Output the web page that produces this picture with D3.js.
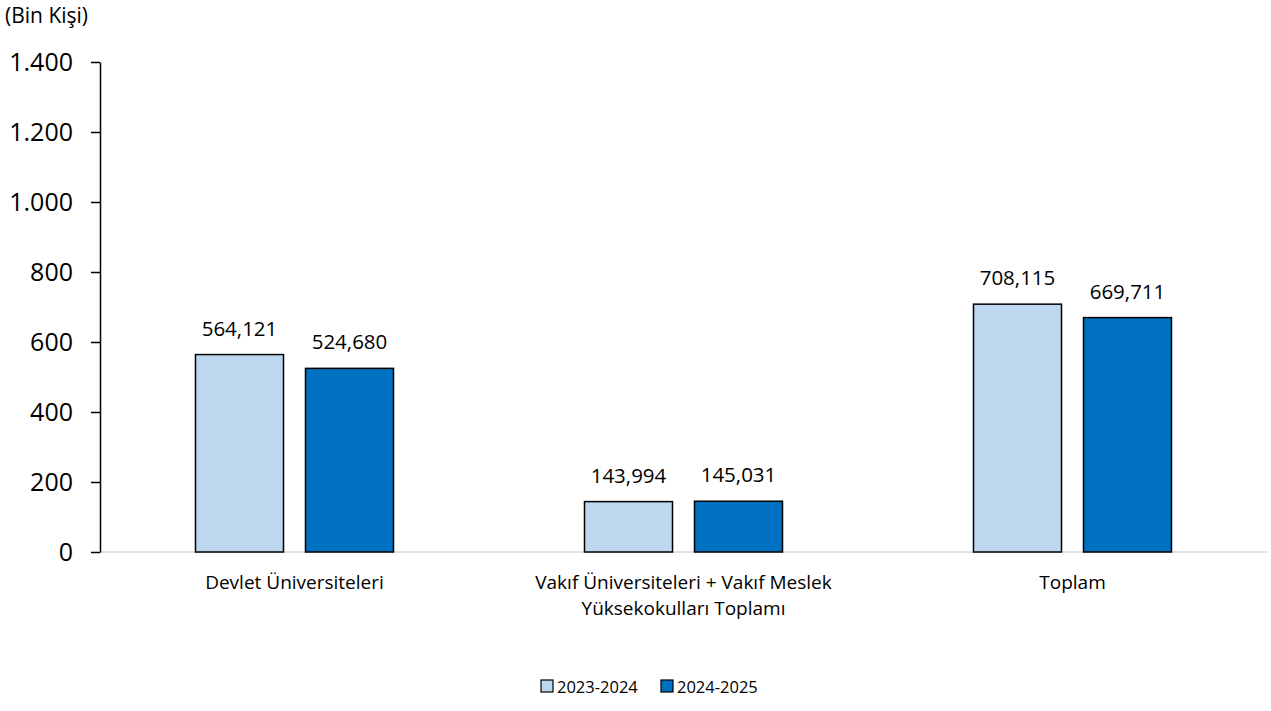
<!DOCTYPE html>
<html><head><meta charset="utf-8">
<script src="https://cdn.jsdelivr.net/npm/d3@7"></script>
<style>body{margin:0;background:#fff}svg{display:block}text{font-family:"Open Sans",Lato,sans-serif;fill:#000}</style>
</head><body><svg id="c" width="1271" height="711"></svg>
<script>
const categories = [["Devlet Üniversiteleri"], ["Vakıf Üniversiteleri + Vakıf Meslek", "Yüksekokulları Toplamı"], ["Toplam"]];
const seriesNames = ["2023-2024", "2024-2025"];
const values2023 = [564.121, 143.994, 708.115];
const values2024 = [524.680, 145.031, 669.711];
const yTicks = [0, 200, 400, 600, 800, 1000, 1200, 1400];
const colors = ["#BDD7EE", "#0070C0"];

const svg = d3.select("#c");
const x0 = d3.scaleBand().domain(d3.range(categories.length)).range([100, 1267]);
const x1 = d3.scaleBand().domain([0, 1]).range([95.5, 293.5]).paddingInner(0.2);
const y = d3.scaleLinear().domain([0, 1400]).range([552, 62]);
const fmtTick = v => d3.format(",")(v).replace(/,/g, ".");
const fmtVal = v => v.toFixed(3).replace(".", ",");

// baseline
svg.append("line").attr("x1", 100).attr("x2", 1267).attr("y1", y(0)).attr("y2", y(0))
  .attr("stroke", "#d9d9d9").attr("stroke-width", 1.5);

const series = [values2023, values2024];
const g = svg.append("g");
categories.forEach((c, i) => {
  series.forEach((vals, s) => {
    const bx = x0(i) + x1(s);
    g.append("rect").attr("x", bx).attr("y", y(vals[i])).attr("width", x1.bandwidth())
      .attr("height", y(0) - y(vals[i])).attr("fill", colors[s]).attr("stroke", "#000").attr("stroke-width", 1.5);
    g.append("text").attr("x", bx + x1.bandwidth() / 2).attr("y", y(vals[i]) - 19)
      .attr("text-anchor", "middle").attr("font-size", 20.5).text(fmtVal(vals[i]));
  });
  c.forEach((line, k) => svg.append("text").attr("text-anchor", "middle").attr("font-size", 19)
    .attr("x", x0(i) + x0.bandwidth() / 2).attr("y", 589 + k * 26).text(line));
});

// y axis
const ax = svg.append("g").attr("transform", "translate(100,0)")
  .call(d3.axisLeft(y).tickValues(yTicks).tickFormat(fmtTick).tickSize(9).tickSizeOuter(0));
ax.select(".domain").attr("stroke", "#000").attr("stroke-width", 1.5);
ax.selectAll(".tick line").attr("stroke", "#000").attr("stroke-width", 1.5);
ax.selectAll(".tick text").attr("font-size", 25).attr("x", -27).attr("font-family", "'Open Sans',Lato,sans-serif").attr("fill", "#000");

// unit label
svg.append("text").attr("x", 5).attr("y", 23).attr("font-size", 21).text("(Bin Kişi)");

// legend
const lx = [541, 661];
seriesNames.forEach((n, s) => {
  svg.append("rect").attr("x", lx[s]).attr("y", 680).attr("width", 12).attr("height", 12)
    .attr("fill", colors[s]).attr("stroke", "#000").attr("stroke-width", 1.2);
  svg.append("text").attr("x", lx[s] + 16).attr("y", 693).attr("font-size", 16.5).text(n);
});
</script></body></html>
